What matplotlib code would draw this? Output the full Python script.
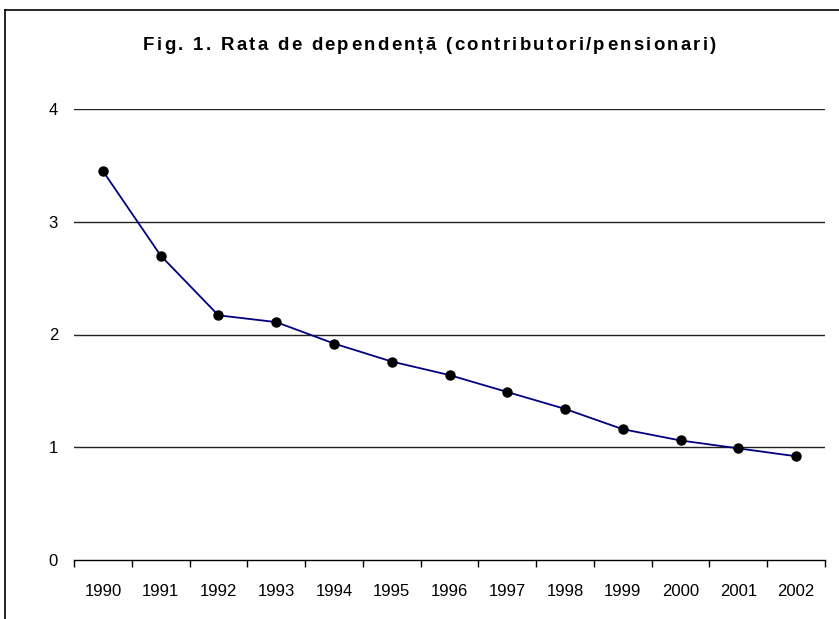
import matplotlib
matplotlib.use("Agg")
import matplotlib.pyplot as plt
from matplotlib.lines import Line2D
from matplotlib.font_manager import FontProperties

years = ["1990", "1991", "1992", "1993", "1994", "1995", "1996",
         "1997", "1998", "1999", "2000", "2001", "2002"]
ratio = [3.45, 2.70, 2.17, 2.11, 1.92, 1.76, 1.64, 1.49, 1.34, 1.16, 1.06, 0.99, 0.92]
yticks = [0, 1, 2, 3, 4]
title = "Fig. 1. Rata de dependență (contributori/pensionari)"

plt.rcParams['font.family'] = ['Liberation Sans', 'DejaVu Sans']

W, H = 839, 619
DPI = 100
fig = plt.figure(figsize=(W / DPI, H / DPI), dpi=DPI)
ax = fig.add_axes([74 / W, 1 - 560 / H, (825 - 74) / W, (560 - 109) / H])

x = list(range(len(years)))
ax.set_xlim(-0.5, len(years) - 0.5)
ax.set_ylim(0, 4)

for yv in yticks[1:]:
    ax.axhline(yv, color="#222222", lw=1.0, zorder=1)

ax.plot(x, ratio, color="#000080", lw=1.3, marker="o", markersize=6.5,
        markerfacecolor="black", markeredgecolor="black", zorder=3)

for s in ["top", "right", "left"]:
    ax.spines[s].set_visible(False)
ax.spines["bottom"].set_color("black")
ax.spines["bottom"].set_linewidth(1.0)

ax.set_yticks(yticks)
ax.set_yticklabels([str(v) for v in yticks], fontsize=12)
ax.tick_params(axis="y", length=0, pad=11.5)

ax.set_xticks([i - 0.5 for i in range(len(years) + 1)])
ax.set_xticklabels([])
ax.set_xticks(x, minor=True)
ax.set_xticklabels(years, minor=True, fontsize=12)
ax.tick_params(axis="x", which="major", length=5, width=1, direction="out", color="black")
ax.tick_params(axis="x", which="minor", length=0, pad=17)

# Title with letter spacing, drawn character by character
TSIZE = 13.4
prop = FontProperties(family='Liberation Sans', weight="bold", size=TSIZE)
renderer = fig.canvas.get_renderer()


def tw(s):
    return renderer.get_text_width_height_descent(s, prop, ismath=False)[0]


ref_w = tw("HH")
widths = [tw("H" + ch + "H") - ref_w for ch in title]
x_start, x_end = 143, 716
spacing = (x_end - x_start - sum(widths)) / (len(title) - 1)
xp = x_start
base_y = 1 - 49.5 / H
for ch, w in zip(title, widths):
    if ch != " ":
        fig.text(xp / W, base_y, ch, ha="left", va="baseline",
                 fontproperties=prop)
    xp += w + spacing

# outer frame (open at bottom/right edge as in the reference)
fig.add_artist(Line2D([5 / W, 5 / W], [0, 1 - 10 / H], transform=fig.transFigure,
                      color="black", lw=1.2))
fig.add_artist(Line2D([5 / W, 1], [1 - 10 / H, 1 - 10 / H], transform=fig.transFigure,
                      color="black", lw=1.2))

fig.savefig("out.png", dpi=DPI)
